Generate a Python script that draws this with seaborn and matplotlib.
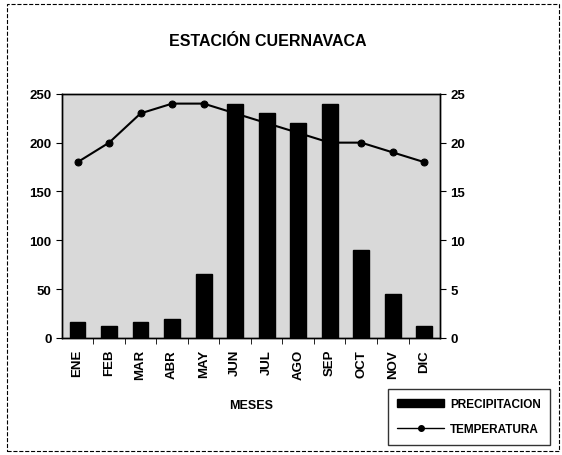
import matplotlib
matplotlib.use("Agg")
import matplotlib.pyplot as plt
import seaborn as sns
import pandas as pd
from matplotlib.patches import Rectangle
from matplotlib.lines import Line2D

# Datos
meses = ["ENE", "FEB", "MAR", "ABR", "MAY", "JUN", "JUL", "AGO", "SEP", "OCT", "NOV", "DIC"]
precipitacion = [16, 12, 16, 19, 65, 240, 230, 220, 240, 90, 45, 12]
temperatura = [18, 20, 23, 24, 24, 23, 22, 21, 20, 20, 19, 18]

sns.set_style("white")
plt.rcParams['font.family'] = ['Liberation Sans Narrow', 'Liberation Sans', 'DejaVu Sans']
plt.rcParams['font.weight'] = 'bold'
plt.rcParams['text.color'] = 'black'
plt.rcParams['axes.labelcolor'] = 'black'
plt.rcParams['xtick.color'] = 'black'
plt.rcParams['ytick.color'] = 'black'

df = pd.DataFrame({"mes": meses, "precip": precipitacion, "temp": temperatura})

fig = plt.figure(figsize=(5.62, 4.56), dpi=100)
ax = fig.add_axes([0.110, 0.257, 0.673, 0.535])
ax2 = ax.twinx()

# linea de temperatura detras de las barras
sns.lineplot(data=df, x="mes", y="temp", color="black", marker="o", markersize=5,
             markeredgecolor="black", linewidth=1.5, ax=ax2, sort=False)
ax2.set_facecolor("#d9d9d9")
ax2.patch.set_visible(True)
ax2.set_ylim(0, 25)
ax2.set_yticks([0, 5, 10, 15, 20, 25])
ax2.set_ylabel("")
ax2.tick_params(axis="y", labelsize=9.5, length=4, direction="out", right=True)

ax.set_zorder(ax2.get_zorder() + 1)
ax.patch.set_visible(False)
sns.barplot(data=df, x="mes", y="precip", color="black", width=0.5, ax=ax,
            saturation=1, edgecolor="black")
ax.set_ylim(0, 250)
ax.set_yticks([0, 50, 100, 150, 200, 250])
ax.set_xlim(-0.5, 11.5)
ax.set_xlabel("MESES", fontsize=9, fontweight="bold", labelpad=14)
ax.set_ylabel("")
ax.tick_params(axis="x", rotation=90, labelsize=9.5, length=0, pad=8)
ax.tick_params(axis="y", labelsize=9.5, length=4, direction="out", left=True)
ax.set_xticks([i + 0.5 for i in range(11)], minor=True)
ax.tick_params(axis="x", which="minor", length=4, direction="out", bottom=True)
for a in (ax, ax2):
    for s in a.spines.values():
        s.set_color("black")
        s.set_linewidth(1)

fig.text(0.477, 0.91, "ESTACIÓN CUERNAVACA", ha="center", va="center", fontsize=11.5, fontweight="bold")

handles = [Rectangle((0, 0), 1, 1, color="black"),
           Line2D([], [], color="black", marker="o", markersize=4, linewidth=1)]
fig.legend(handles, ["PRECIPITACION", "TEMPERATURA"], loc="lower right",
           bbox_to_anchor=(0.99, 0.01), fontsize=8.5, frameon=True, fancybox=False,
           edgecolor="black", handlelength=4, borderpad=0.8, labelspacing=1.1,
           handletextpad=0.5)

fig.patches.append(Rectangle((0.012, 0.008), 0.982, 0.98, transform=fig.transFigure,
                             fill=False, edgecolor="black", linestyle="--", linewidth=0.8))

fig.savefig("out.png", dpi=100)
